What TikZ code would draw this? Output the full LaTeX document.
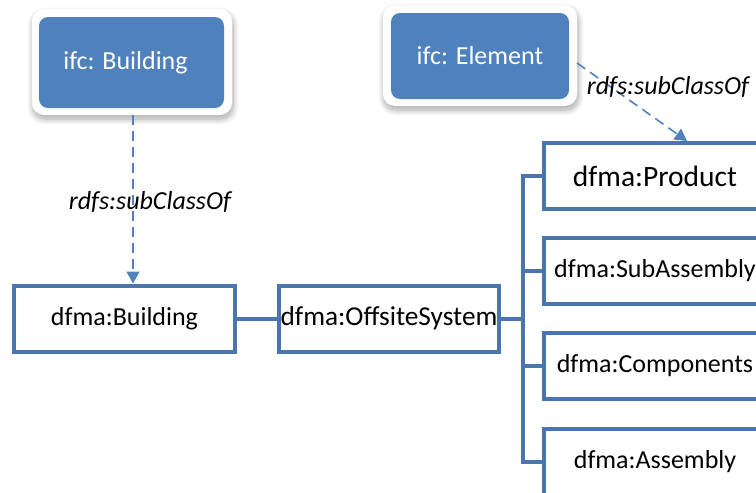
\documentclass[tikz,border=0pt]{standalone}
\usepackage{fontspec}
\setmainfont{Carlito}
\usetikzlibrary{arrows.meta,shadows.blur}
\definecolor{ofblue}{RGB}{79,129,189}
\definecolor{lineblue}{RGB}{74,118,176}
\tikzset{
  txt/.style={font=\fontsize{26}{30}\selectfont},
  outerbox/.style={draw=none,fill=white,rounded corners=12pt,
    blur shadow={shadow blur steps=12,shadow xshift=1pt,shadow yshift=-4pt,shadow opacity=35,shadow blur radius=6pt}},
  innerbox/.style={txt,fill=ofblue,rounded corners=9pt,text=white,inner sep=0pt},
  classbox/.style={txt,draw=lineblue,line width=4pt,fill=white,inner sep=0pt,
    minimum width=221pt,minimum height=66pt},
  rbox/.style={classbox,minimum width=222pt},
  conn/.style={draw=lineblue,line width=4pt},
  subarrow/.style={draw=ofblue,line width=1.6pt,dash pattern=on 10pt off 6pt,
    -{Triangle[width=13pt,length=12pt]}},
  lbl/.style={txt,font=\fontsize{26}{30}\selectfont\itshape,inner sep=0pt}
}
\begin{document}
\begin{tikzpicture}[x=1pt,y=1pt]
\useasboundingbox (0,0) rectangle (756,-493);
% top ifc classes
\node[outerbox,minimum width=200pt,minimum height=106pt] (ifcB) at (132,-62) {};
\node[innerbox,minimum width=185pt,minimum height=91pt] (ifcBin) at (131.5,-62.5) {ifc: Building\kern12pt};
\node[outerbox,minimum width=194pt,minimum height=101pt] (ifcE) at (480,-55.5) {};
\node[innerbox,minimum width=178pt,minimum height=86pt] (ifcEin) at (480,-56) {ifc: Element};
% dfma classes
\node[classbox,minimum width=221pt] (dB) at (124.5,-318.5) {dfma:Building};
\node[classbox,minimum width=220pt,font=\fontsize{27.3}{31}\selectfont] (dO) at (389,-318.5) {dfma:OffsiteSystem};
\node[rbox,font=\fontsize{29.5}{33}\selectfont] (pr) at (655,-176) {dfma:Product};
\node[rbox] (sa) at (655,-271) {dfma:SubAssembly};
\node[rbox] (co) at (655,-366) {dfma:Components};
\node[rbox] (as) at (655,-462) {dfma:Assembly};
% connectors
\coordinate (bus) at (523,-318.5);
\draw[conn] (dB.east) -- (dO.west);
\draw[conn] (dO.east) -- (bus);
\draw[conn,line cap=rect] (bus |- pr.west) -- (bus |- as.west);
\draw[conn] (bus |- pr.west) -- (pr.west);
\draw[conn] (bus |- sa.west) -- (sa.west);
\draw[conn] (bus |- co.west) -- (co.west);
\draw[conn] (bus |- as.west) -- (as.west);
% subclass arrows
\draw[subarrow] (ifcB.south) ++(1,0) coordinate (b1) -- (b1 |- dB.north);
\coordinate (e1) at (577,-63);
\draw[subarrow] (e1) -- ([xshift=32pt]pr.north);
\node[lbl] (l1) at (150,-202) {rdfs:subClassOf};
\node[lbl] (l2) at (668,-87) {rdfs:subClassOf};
\end{tikzpicture}
\end{document}
